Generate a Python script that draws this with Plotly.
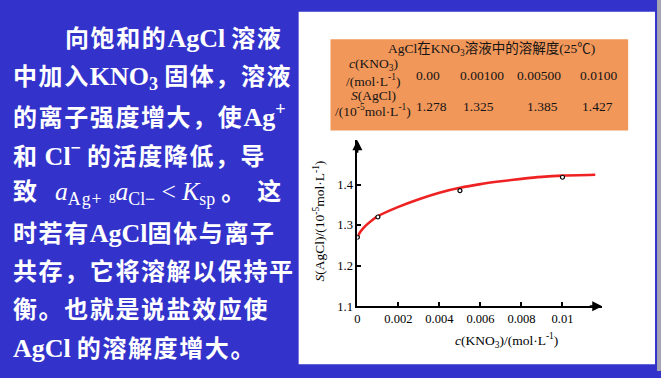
import plotly.graph_objects as go

W, H = 661, 378


def px(x):
    return x / W


def py(y):
    return 1 - y / H


# ---------------- data ----------------
point_c = [0.0, 0.001, 0.005, 0.010]
point_s = [1.270, 1.320, 1.385, 1.418]

curve_c = [0.0, 0.0001, 0.0003, 0.0005, 0.001, 0.002, 0.003, 0.004, 0.005,
           0.006, 0.007, 0.008, 0.009, 0.010, 0.0116]
curve_s = [1.270, 1.280, 1.293, 1.303, 1.322, 1.345, 1.364, 1.380, 1.392,
           1.401, 1.408, 1.414, 1.419, 1.422, 1.424]

table_conc = ["0.00", "0.00100", "0.00500", "0.0100"]
table_sol = ["1.278", "1.325", "1.385", "1.427"]

x_tickvals = [0, 0.002, 0.004, 0.006, 0.008, 0.01]
x_ticktext = ["0", "0.002", "0.004", "0.006", "0.008", "0.01"]
y_tickvals = [1.1, 1.2, 1.3, 1.4]
y_ticktext = ["1.1", "1.2", "1.3", "1.4"]

X_MAX = 0.01194
Y_MIN, Y_MAX = 1.1, 1.509

BLUE = "#3333CC"
SERIF = "Liberation Serif, Noto Sans CJK SC"

fig = go.Figure()
fig.add_trace(go.Scatter(x=curve_c, y=curve_s, mode="lines",
                         line=dict(color="#EE2222", width=2.6, shape="spline", smoothing=0.6),
                         hoverinfo="skip", showlegend=False))
fig.add_trace(go.Scatter(x=point_c, y=point_s, mode="markers",
                         marker=dict(symbol="circle", size=4, color="white", line=dict(color="black", width=1.2)),
                         showlegend=False))

shapes = [
    dict(type="rect", xref="paper", yref="paper", x0=px(297), x1=px(655), y0=py(371), y1=py(12),
         fillcolor="white", line=dict(width=0), layer="below"),
    dict(type="rect", xref="paper", yref="paper", x0=px(657), x1=1, y0=0, y1=1,
         fillcolor="#A3A3B3", line=dict(width=0), layer="below"),
    dict(type="rect", xref="paper", yref="paper", x0=px(329), x1=px(628), y0=py(133), y1=py(40),
         fillcolor="#F1975A", line=dict(width=0), layer="below"),
]

ann = []
# table text
TC = "#141414"
TF = dict(family=SERIF, size=13.5, color=TC)
ann.append(dict(xref="paper", yref="paper", x=px(491), y=py(50),
                text="AgCl在KNO<sub>3</sub>溶液中的溶解度(25℃)", showarrow=False,
                font=TF, xanchor="center", yanchor="middle"))
ann.append(dict(xref="paper", yref="paper", x=px(372), y=py(66),
                text="<i>c</i>(KNO<sub>3</sub>)", showarrow=False,
                font=TF, xanchor="center", yanchor="middle"))
ann.append(dict(xref="paper", yref="paper", x=px(372), y=py(82),
                text="/(mol·L<sup>-1</sup>)", showarrow=False,
                font=TF, xanchor="center", yanchor="middle"))
ann.append(dict(xref="paper", yref="paper", x=px(372), y=py(97),
                text="<i>S</i>(AgCl)", showarrow=False,
                font=TF, xanchor="center", yanchor="middle"))
ann.append(dict(xref="paper", yref="paper", x=px(372), y=py(113),
                text="/(10<sup>-5</sup>mol·L<sup>-1</sup>)", showarrow=False,
                font=TF, xanchor="center", yanchor="middle"))
col_x1 = [427, 481, 538, 598]
col_x2 = [430, 478, 542, 597]
for i, t in enumerate(table_conc):
    ann.append(dict(xref="paper", yref="paper", x=px(col_x1[i]), y=py(77), text=t, showarrow=False,
                    font=TF, xanchor="center", yanchor="middle"))
for i, t in enumerate(table_sol):
    ann.append(dict(xref="paper", yref="paper", x=px(col_x2[i]), y=py(109), text=t, showarrow=False,
                    font=TF, xanchor="center", yanchor="middle"))

# axis titles
ann.append(dict(xref="paper", yref="paper", x=px(318), y=py(225),
                text="<i>S</i>(AgCl)/(10<sup>-5</sup>mol·L<sup>-1</sup>)", showarrow=False, textangle=-90,
                font=dict(family=SERIF, size=13.5, color="black"), xanchor="center", yanchor="middle"))
ann.append(dict(xref="paper", yref="paper", x=px(506), y=py(347),
                text="<i>c</i>(KNO<sub>3</sub>)/(mol·L<sup>-1</sup>)", showarrow=False,
                font=dict(family=SERIF, size=13.5, color="black"), xanchor="center", yanchor="middle"))

# arrowheads
ann.append(dict(xref="x", yref="y", x=X_MAX, y=Y_MIN, ax=-14, ay=0, text="", showarrow=True,
                arrowhead=2, arrowsize=1, arrowwidth=2, arrowcolor="black"))
ann.append(dict(xref="x", yref="y", x=0, y=Y_MAX, ax=0, ay=14, text="", showarrow=True,
                arrowhead=2, arrowsize=1, arrowwidth=2, arrowcolor="black"))

# left slide text
LS = "letter-spacing:1.6px"
NB = "font-weight:normal"
LAT = "font-size:26px"
SP = "\u00a0"
lines = [
    (60, 39, f"<span style='{LS}'>向饱和的</span><span style='{LAT}'>AgCl</span> <span style='{LS}'>溶液</span>"),
    (8, 79, f"<span style='{LS}'>中加入</span><span style='{LAT}'>KNO<sub>3</sub></span> <span style='{LS}'>固体，溶液</span>"),
    (8, 118, f"<span style='{LS}'>的离子强度增大，使</span><span style='{LAT}'>Ag<sup>+</sup></span>"),
    (8, 157, f"<span style='{LS}'>和</span> <span style='{LAT}'>Cl<sup>−</sup></span>{SP}<span style='{LS}'>的活度降低，导</span>"),
    (8, 197, f"致{SP}{SP}{SP}<span style='{NB};font-size:25.5px'><i>a</i><sub><span style='letter-spacing:1px'>Ag+</span></sub>"
             f"{SP}<span style='font-size:13px'>g</span><i>a</i><sub>Cl−</sub>{SP}&lt;{SP}<i>K</i><sub>sp</sub></span>"
             f"{SP}<span style='letter-spacing:12px'>。</span>这"),
    (8, 238, f"<span style='{LS}'>时若有</span><span style='{LAT}'>AgCl</span><span style='{LS}'>固体与离子</span>"),
    (8, 277, f"<span style='{LS}'>共存，它将溶解以保持平</span>"),
    (8, 316, f"<span style='{LS}'>衡。也就是说盐效应使</span>"),
    (8, 355, f"<span style='{LAT}'>AgCl</span> <span style='{LS}'>的溶解度增大。</span>"),
]
for x0, y0, t in lines:
    ann.append(dict(xref="paper", yref="paper", x=px(x0), y=py(y0), text=t, showarrow=False,
                    font=dict(family=SERIF, size=24, color="white", weight="bold"),
                    xanchor="left", yanchor="middle", align="left"))

axis_font = dict(family="Liberation Serif", size=12.5, color="black")
fig.update_layout(
    width=W, height=H, autosize=False,
    margin=dict(l=0, r=0, t=0, b=0),
    paper_bgcolor=BLUE, plot_bgcolor="rgba(0,0,0,0)",
    shapes=shapes, annotations=ann, showlegend=False,
    xaxis=dict(domain=[px(356), px(602)], range=[0, X_MAX], showgrid=False, zeroline=False,
               showline=True, linecolor="black", linewidth=2, ticks="inside", ticklen=4, tickwidth=1.5,
               tickcolor="black", tickvals=x_tickvals, ticktext=x_ticktext, tickfont=axis_font),
    yaxis=dict(domain=[py(312), py(143)], range=[Y_MIN, Y_MAX], showgrid=False, zeroline=False,
               showline=True, linecolor="black", linewidth=2, ticks="inside", ticklen=4, tickwidth=1.5,
               tickcolor="black", tickvals=y_tickvals, ticktext=y_ticktext, tickfont=axis_font),
)

fig.write_html("out.html")
